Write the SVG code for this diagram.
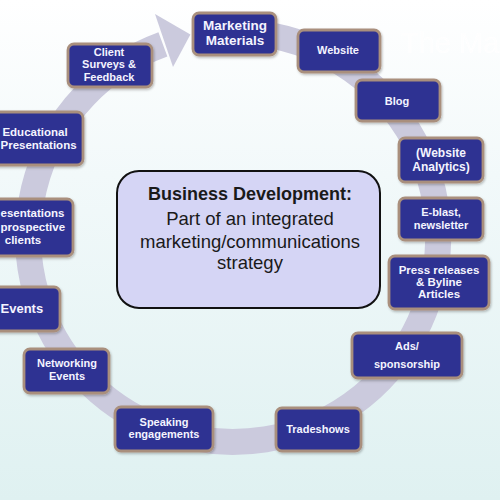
<svg xmlns="http://www.w3.org/2000/svg" width="500" height="500" viewBox="0 0 500 500">
<defs>
<linearGradient id="bg" x1="0" y1="0" x2="0" y2="1">
<stop offset="0" stop-color="#ffffff"/>
<stop offset="0.35" stop-color="#f2f9fa"/>
<stop offset="1" stop-color="#dff1f1"/>
</linearGradient>
<filter id="sh" x="-10%" y="-10%" width="130%" height="140%">
<feDropShadow dx="1" dy="1.5" stdDeviation="1.2" flood-color="#000" flood-opacity="0.25"/>
</filter>
</defs>
<style>
.box{fill:#2e3192;stroke:#a98f7d;stroke-width:2.8;filter:url(#sh)}
.t{font-family:"Liberation Sans",Arial,sans-serif;font-weight:bold;fill:#f4f4ff;text-anchor:middle}
.s{text-anchor:start}
.c{font-family:"Liberation Sans",Arial,sans-serif;fill:#1a1a1a;text-anchor:middle}
</style>
<rect x="0" y="0" width="500" height="500" fill="url(#bg)"/>
<text x="401" y="53" font-family="Liberation Sans, Arial, sans-serif" font-size="29" fill="#ffffff" opacity="0.9">The Ma</text>

<g id="connectors">
<path d="M240.2,32.1 A205,205 0 1 1 162.9,44.4" fill="none" stroke="#cbcadd" stroke-width="26"/>
<polygon points="155,14 190.4,34.5 173,67" fill="#cbcadd"/>
</g>

<g id="center">
<rect x="117" y="171" width="263" height="137" rx="22" fill="#d5d5f5" stroke="#111" stroke-width="2"/>
<text class="c" x="250" y="200" font-size="18" font-weight="bold">Business Development:</text>
<text class="c" x="250" y="225" font-size="18.5">Part of an integrated</text>
<text class="c" x="250" y="248" font-size="18.5">marketing/communications</text>
<text class="c" x="250" y="269" font-size="18.5">strategy</text>
</g>

<g id="marketing-materials" font-size="13.5">
<rect class="box" x="193" y="13" width="83" height="42" rx="6"/>
<text class="t" x="235" y="30">Marketing</text>
<text class="t" x="235" y="45">Materials</text>
</g>
<g id="website" font-size="11">
<rect class="box" x="298" y="30" width="82" height="42" rx="6"/>
<text class="t" x="338" y="54">Website</text>
</g>
<g id="blog" font-size="11">
<rect class="box" x="356" y="80" width="84" height="41" rx="6"/>
<text class="t" x="397" y="105">Blog</text>
</g>
<g id="analytics" font-size="12">
<rect class="box" x="399" y="138" width="84" height="44" rx="6"/>
<text class="t" x="441" y="157">(Website</text>
<text class="t" x="441" y="171">Analytics)</text>
</g>
<g id="eblast" font-size="11">
<rect class="box" x="399" y="198" width="84" height="42" rx="6"/>
<text class="t" x="441" y="216">E-blast,</text>
<text class="t" x="441" y="229">newsletter</text>
</g>
<g id="press" font-size="11.5">
<rect class="box" x="389" y="256" width="100" height="53" rx="6"/>
<text class="t" x="439" y="274">Press releases</text>
<text class="t" x="439" y="286">&amp; Byline</text>
<text class="t" x="439" y="298">Articles</text>
</g>
<g id="ads" font-size="11">
<rect class="box" x="352" y="333" width="110" height="45" rx="6"/>
<text class="t" x="407" y="350">Ads/</text>
<text class="t" x="407" y="368">sponsorship</text>
</g>
<g id="tradeshows" font-size="11">
<rect class="box" x="276" y="408" width="85" height="43" rx="6"/>
<text class="t" x="318" y="433">Tradeshows</text>
</g>
<g id="speaking" font-size="11">
<rect class="box" x="115" y="407" width="98" height="44" rx="6"/>
<text class="t" x="164" y="426">Speaking</text>
<text class="t" x="164" y="438">engagements</text>
</g>
<g id="networking" font-size="11">
<rect class="box" x="24" y="349" width="85" height="44" rx="6"/>
<text class="t" x="67" y="367">Networking</text>
<text class="t" x="67" y="380">Events</text>
</g>
<g id="events" font-size="13">
<rect class="box" x="-20" y="287" width="80" height="44" rx="6"/>
<text class="t s" x="0.5" y="313">Events</text>
</g>
<g id="presentations-prospective" font-size="11.5">
<rect class="box" x="-30" y="199" width="103" height="57" rx="6"/>
<text class="t s" x="0.5" y="217">esentations</text>
<text class="t s" x="0.5" y="231">prospective</text>
<text class="t" x="23" y="244">clients</text>
</g>
<g id="educational" font-size="11.5">
<rect class="box" x="-20" y="112" width="103" height="53" rx="6"/>
<text class="t" x="35" y="136">Educational</text>
<text class="t s" x="0.5" y="149">Presentations</text>
</g>
<g id="client-surveys" font-size="11">
<rect class="box" x="68" y="44" width="84" height="43" rx="6"/>
<text class="t" x="109" y="56">Client</text>
<text class="t" x="109" y="68">Surveys &amp;</text>
<text class="t" x="109" y="81">Feedback</text>
</g>
</svg>
